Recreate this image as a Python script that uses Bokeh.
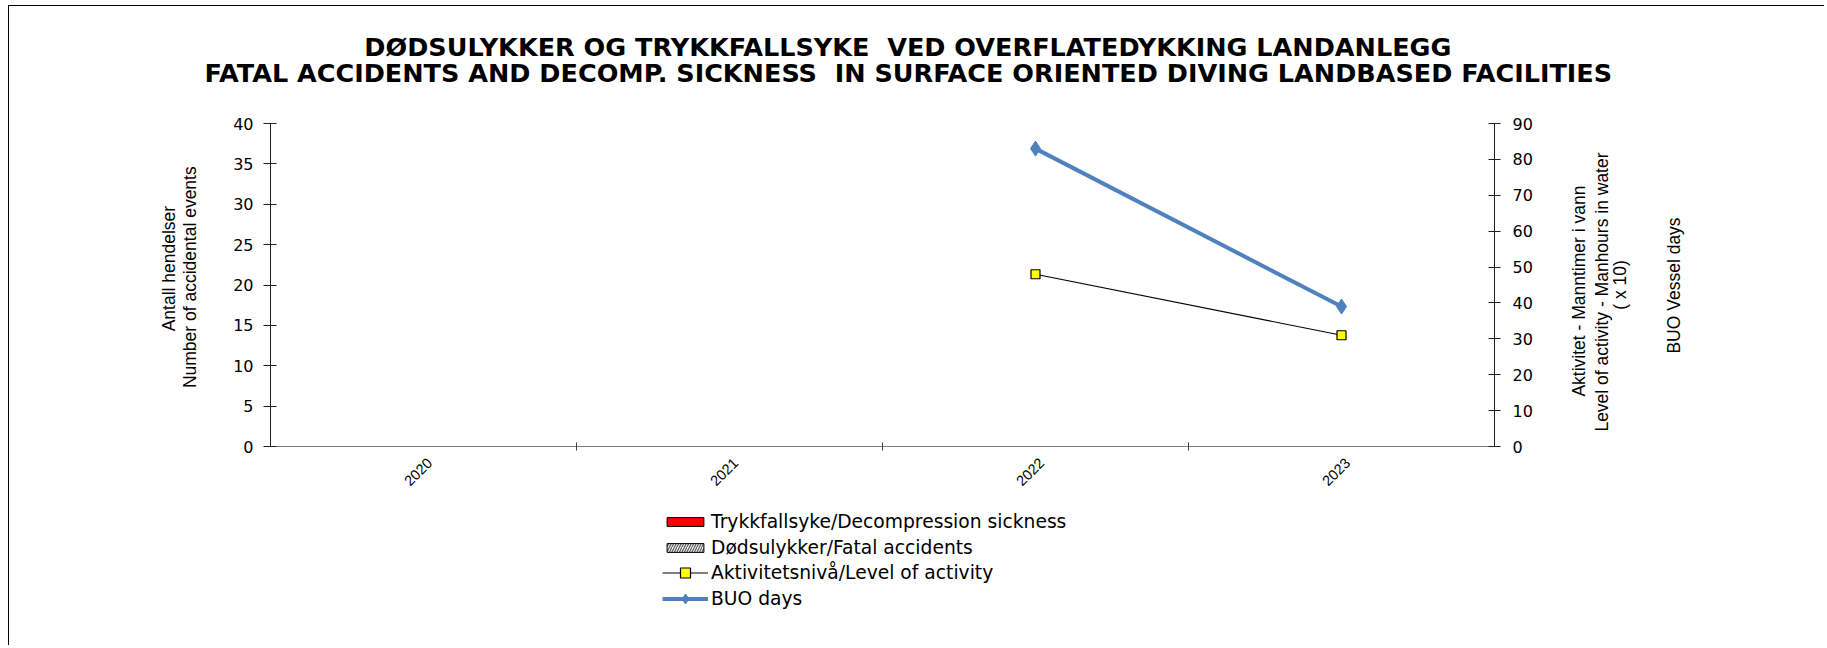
import math
import numpy as np
from bokeh.plotting import figure
from bokeh.models import (Range1d, LinearAxis, FixedTicker, Legend, LegendItem,
                          ColumnDataSource, Title)
from bokeh.transform import dodge
from bokeh.embed import file_html
from bokeh.resources import INLINE

# ---------------- data ----------------
years = ["2020", "2021", "2022", "2023"]
decompression = [0, 0, 0, 0]          # Trykkfallsyke/Decompression sickness
fatal = [0, 0, 0, 0]                  # Dødsulykker/Fatal accidents
activity = [np.nan, np.nan, 48, 31]   # Aktivitetsnivå/Level of activity (x 10)
buo_days = [np.nan, np.nan, 83, 39]   # BUO days
left_ticks = [0, 5, 10, 15, 20, 25, 30, 35, 40]
right_ticks = [0, 10, 20, 30, 40, 50, 60, 70, 80, 90]
left_max, right_max = 40, 90

title_line1 = "DØDSULYKKER OG TRYKKFALLSYKE\u00a0 VED OVERFLATEDYKKING LANDANLEGG"
title_line2 = "FATAL ACCIDENTS AND DECOMP. SICKNESS\u00a0 IN SURFACE ORIENTED DIVING LANDBASED FACILITIES"
left_label_lines = ["Number of accidental events", "Antall hendelser"]
right_label_lines = ["Aktivitet - Manntimer i vann", "Level of activity - Manhours in water",
                     "( x 10)", "BUO Vessel days"]
legend_labels = ["Trykkfallsyke/Decompression sickness", "Dødsulykker/Fatal accidents",
                 "Aktivitetsnivå/Level of activity", "BUO days"]

xpos = [i + 1 for i in range(len(years))]
source = ColumnDataSource(dict(x=xpos, years=years, dec=decompression, fatal=fatal,
                               act=activity, buo=buo_days))

TICK_FONT = "DejaVu Sans"
X_FONT = "Liberation Sans"
LABEL_FONT = "Liberation Sans"

# ---------------- layout (page pixels) ----------------
FIG_TOP, FIG_H = 6, 640
AX_TOP, AX_ZERO, FRAME_BOTTOM = 123, 446, 636     # value axis top, zero line, frame bottom
below = (FRAME_BOTTOM - AX_ZERO) / (AX_ZERO - AX_TOP)   # room under the zero line (legend)

p = figure(width=1816, height=FIG_H, x_range=Range1d(0.5, len(years) + 0.5),
           y_range=Range1d(-below * left_max, left_max), output_backend="svg",
           toolbar_location=None, x_axis_location=None,
           min_border_left=261, min_border_right=331, min_border_top=AX_TOP - FIG_TOP,
           min_border_bottom=FIG_TOP + FIG_H - FRAME_BOTTOM, outline_line_color=None)
p.extra_y_ranges = {"right": Range1d(-below * right_max, right_max)}
p.grid.visible = False
p.styles = {"margin-left": "8px", "margin-top": "5px",
            "border-top": "1px solid #000", "border-left": "1px solid #000"}

# two-line heading (outermost), with a blank spacer between it and the frame
p.title.text = "\u00a0" * 18 + title_line1 + "\n" + title_line2
p.title.align = "left"
p.title.offset = -66
p.title.standoff = 4
p.title.text_font = "DejaVu Sans"
p.title.text_font_style = "bold"
p.title.text_font_size = "25.5px"
p.title.text_line_height = 0.85
p.title.text_color = "#000000"
p.add_layout(Title(text="\u00a0", text_font_size="8px", standoff=23), "above")

# x axis drawn on the zero line: labels under category centres, ticks at boundaries
label_shift = 0.02
xa = LinearAxis(fixed_location=0,
                ticker=FixedTicker(ticks=[x + label_shift for x in xpos],
                                   minor_ticks=[x + 0.5 for x in xpos[:-1]]),
                major_label_overrides={x + label_shift: y for x, y in zip(xpos, years)},
                major_tick_in=0, major_tick_out=0, major_tick_line_color=None,
                minor_tick_in=4, minor_tick_out=4, minor_tick_line_color="#404040",
                axis_line_color="#808080", major_label_orientation=math.pi / 4,
                major_label_text_font=X_FONT, major_label_text_font_size="14.5px",
                major_label_text_color="#000000", major_label_standoff=10)
p.add_layout(xa, "below")

# left axis
ya = p.yaxis[0]
ya.bounds = (0, left_max)
ya.ticker = FixedTicker(ticks=left_ticks)
ya.major_tick_in = 6
ya.major_tick_out = 7
ya.minor_tick_line_color = None
ya.axis_line_color = "#202020"
ya.major_tick_line_color = "#202020"
ya.major_label_text_font = TICK_FONT
ya.major_label_text_font_size = "16px"
ya.major_label_text_color = "#000000"
ya.major_label_standoff = 10

# right axis with ticks
ra = LinearAxis(y_range_name="right", bounds=(0, right_max),
                ticker=FixedTicker(ticks=right_ticks),
                major_tick_in=6, major_tick_out=6, minor_tick_line_color=None,
                axis_line_color="#202020", major_tick_line_color="#202020",
                major_label_text_font=TICK_FONT, major_label_text_font_size="16px",
                major_label_text_color="#000000", major_label_standoff=12)
p.add_layout(ra, "right")


def title_axis(txt, pos, standoff, range_name="default"):
    # an axis that carries one rotated text (reads bottom-to-top)
    return LinearAxis(y_range_name=range_name, ticker=FixedTicker(ticks=[pos]),
                      major_label_overrides={pos: txt},
                      major_label_orientation=math.pi / 2,
                      major_tick_in=0, major_tick_out=0, major_tick_line_color=None,
                      minor_tick_line_color=None, axis_line_color=None,
                      major_label_standoff=standoff, major_label_text_font=LABEL_FONT,
                      major_label_text_font_size="17.5px", major_label_text_color="#000000")


# left titles: the text ends (top) at the given position on the left scale
left_title_ends = [34.7, 29.8]
left_title_standoffs = [40, -2]
for txt, pos, so in zip(left_label_lines, left_title_ends, left_title_standoffs):
    p.add_layout(title_axis(txt, pos, so), "left")

# right titles: the text starts (bottom) at the given position on the right scale
right_title_starts = [13.9, 4.15, 38.1, 25.9]
right_title_standoffs = [44, 0, -5, 31]
for txt, pos, so in zip(right_label_lines, right_title_starts, right_title_standoffs):
    p.add_layout(title_axis(txt, pos, so, "right"), "right")

# bars (all zero in the source data)
r_dec = p.vbar(x=dodge("x", -0.15, range=p.x_range), top="dec", bottom=0, width=0.3,
               source=source, fill_color="#FF0000", line_color="#000000")
r_fat = p.vbar(x=dodge("x", 0.15, range=p.x_range), top="fatal", bottom=0, width=0.3,
               source=source, fill_color="#FFFFFF", line_color="#000000",
               hatch_pattern="/", hatch_color="#606060", hatch_scale=5, hatch_weight=1.3)

# lines on the right axis
r_act_l = p.line(x="x", y="act", source=source, y_range_name="right",
                 line_color="#000000", line_width=1.2)
r_act_m = p.scatter(x="x", y="act", source=source, y_range_name="right", marker="square",
                    size=9, fill_color="#FFFF00", line_color="#000000", line_width=1.2)
r_buo_l = p.line(x="x", y="buo", source=source, y_range_name="right",
                 line_color="#4F81BD", line_width=4)
r_buo_m = p.scatter(x="x", y="buo", source=source, y_range_name="right", marker="diamond",
                    size=15, fill_color="#4F81BD", line_color="#4F81BD")

common = dict(orientation="vertical", glyph_width=46, padding=0, margin=0,
              border_line_color=None, background_fill_alpha=0,
              label_text_font="DejaVu Sans", label_text_font_size="18.7px",
              label_standoff=3, label_text_color="#000000")
legend_bars = Legend(items=[
    LegendItem(label=legend_labels[0], renderers=[r_dec]),
    LegendItem(label=legend_labels[1], renderers=[r_fat]),
], location=(392, FRAME_BOTTOM - 558), glyph_height=11, label_height=21, spacing=5,
    **common)
legend_lines = Legend(items=[
    LegendItem(label=legend_labels[2], renderers=[r_act_l, r_act_m]),
    LegendItem(label=legend_labels[3], renderers=[r_buo_l, r_buo_m]),
], location=(392, FRAME_BOTTOM - 611), glyph_height=25, label_height=25, spacing=1,
    **common)
p.add_layout(legend_bars)
p.add_layout(legend_lines)

open("out.html", "w").write(file_html(p, INLINE))
